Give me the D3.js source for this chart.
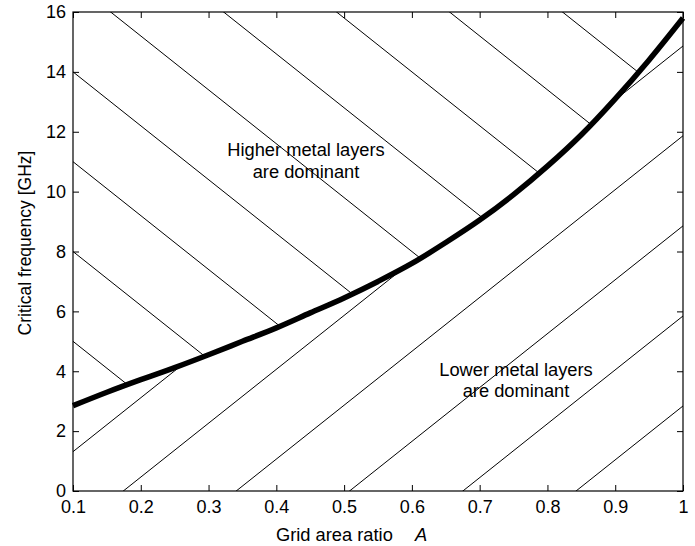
<!DOCTYPE html>
<html>
<head>
<meta charset="utf-8">
<script src="https://cdn.jsdelivr.net/npm/d3@7"></script>
<style>
  body { margin: 0; background: #fff; }
  text { font-family: "Liberation Sans", Arial, Helvetica, sans-serif; fill: #000; }
</style>
</head>
<body>
<svg id="chart" width="695" height="546"></svg>
<script>
// Critical frequency versus grid area ratio A
const gridRatio = [0.1, 0.15, 0.2, 0.25, 0.3, 0.35, 0.4, 0.45, 0.5, 0.55, 0.6, 0.65, 0.7, 0.75, 0.8, 0.85, 0.9, 0.95, 1.0];
const critFreq  = [2.85, 3.3, 3.72, 4.12, 4.55, 5.0, 5.45, 5.95, 6.45, 7.0, 7.6, 8.3, 9.05, 9.9, 10.85, 11.9, 13.1, 14.4, 15.8];

const xTicks = [0.1, 0.2, 0.3, 0.4, 0.5, 0.6, 0.7, 0.8, 0.9, 1];
const yTicks = [0, 2, 4, 6, 8, 10, 12, 14, 16];

// Hatching: falling lines above the curve (value at A = 0.1),
// rising lines below the curve (A where they meet zero)
const hatchSlope = 18;
const fallStarts = [5, 8, 11, 14, 17, 20, 23, 26, 29];
const riseRoots  = [0.027, 0.1742, 0.3408, 0.508, 0.6752, 0.8422];

const svg = d3.select("#chart");
const x = d3.scaleLinear().domain([0.1, 1]).range([73, 683]);
const y = d3.scaleLinear().domain([0, 16]).range([491, 12]);

const pts = gridRatio.map((a, i) => [a, critFreq[i]]);
const curveType = d3.curveMonotoneX;

// clip regions above and below the curve
const defs = svg.append("defs");
defs.append("clipPath").attr("id", "above")
  .append("path")
  .attr("d", d3.area().curve(curveType).x(d => x(d[0])).y0(y(16)).y1(d => y(d[1]))(pts));
defs.append("clipPath").attr("id", "below")
  .append("path")
  .attr("d", d3.area().curve(curveType).x(d => x(d[0])).y0(y(0)).y1(d => y(d[1]))(pts));

svg.append("g").attr("clip-path", "url(#above)")
  .selectAll("line").data(fallStarts).join("line")
  .attr("x1", x(0.1)).attr("y1", c => y(c))
  .attr("x2", x(1)).attr("y2", c => y(c - hatchSlope * 0.9))
  .attr("stroke", "#000").attr("stroke-width", 1);

svg.append("g").attr("clip-path", "url(#below)")
  .selectAll("line").data(riseRoots).join("line")
  .attr("x1", x(0.1)).attr("y1", r => y(hatchSlope * (0.1 - r)))
  .attr("x2", x(1)).attr("y2", r => y(hatchSlope * (1 - r)))
  .attr("stroke", "#000").attr("stroke-width", 1);

// axes with inward ticks on all four sides
const fmtX = d => (d === 1 ? "1" : d3.format(".1f")(d));
const axBottom = svg.append("g").attr("transform", `translate(0,${y(0)})`)
  .call(d3.axisBottom(x).tickValues(xTicks).tickSizeInner(-6).tickSizeOuter(0).tickPadding(9).tickFormat(fmtX));
const axLeft = svg.append("g").attr("transform", `translate(${x(0.1)},0)`)
  .call(d3.axisLeft(y).tickValues(yTicks).tickSizeInner(-6).tickSizeOuter(0).tickPadding(7));
const axTop = svg.append("g").attr("transform", `translate(0,${y(16)})`)
  .call(d3.axisTop(x).tickValues(xTicks).tickSizeInner(-6).tickSizeOuter(0).tickFormat(""));
const axRight = svg.append("g").attr("transform", `translate(${x(1)},0)`)
  .call(d3.axisRight(y).tickValues(yTicks).tickSizeInner(-6).tickSizeOuter(0).tickFormat(""));

[axBottom, axLeft, axTop, axRight].forEach(g => {
  g.select(".domain").remove();
  g.selectAll("line").attr("stroke", "#000");
  g.selectAll("text").attr("font-size", 18).attr("font-family", "Liberation Sans, Arial, sans-serif").attr("fill", "#000");
});

svg.append("rect")
  .attr("x", x(0.1)).attr("y", y(16))
  .attr("width", x(1) - x(0.1)).attr("height", y(0) - y(16))
  .attr("fill", "none").attr("stroke", "#000").attr("stroke-width", 1.2);

// critical frequency curve
svg.append("path")
  .datum(pts)
  .attr("d", d3.line().curve(curveType).x(d => x(d[0])).y(d => y(d[1])))
  .attr("fill", "none").attr("stroke", "#000").attr("stroke-width", 5.5);

// region labels
const note = (lines, cx, by) => {
  const t = svg.append("text").attr("text-anchor", "middle").attr("font-size", 18.3);
  lines.forEach((s, i) => t.append("tspan").attr("x", cx).attr("y", by + i * 21.5).text(s));
};
note(["Higher metal layers", "are dominant"], 306, 156);
note(["Lower metal layers", "are dominant"], 516, 375.5);

// axis titles
svg.append("text").attr("x", 276).attr("y", 541).attr("font-size", 18.3).text("Grid area ratio");
svg.append("text").attr("x", 415).attr("y", 541).attr("font-size", 18.3).attr("font-style", "italic").text("A");

svg.append("text")
  .attr("transform", "translate(31,243) rotate(-90)")
  .attr("text-anchor", "middle").attr("font-size", 17.5)
  .text("Critical frequency [GHz]");
</script>
</body>
</html>
